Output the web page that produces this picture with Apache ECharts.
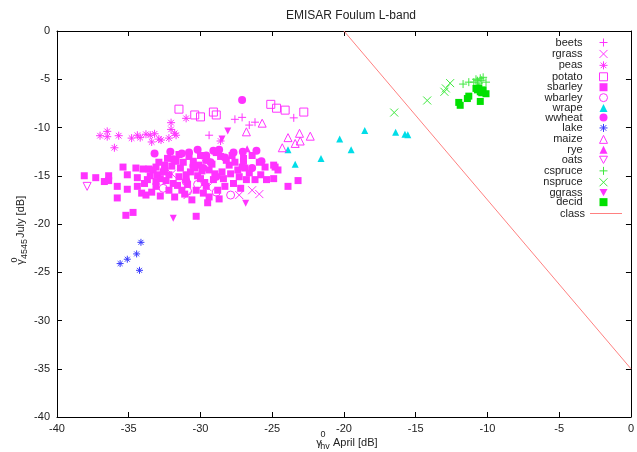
<!DOCTYPE html>
<html lang="en">
<head>
    <meta charset="UTF-8">
    <title>EMISAR Foulum L-band</title>
    <script src="https://cdn.jsdelivr.net/npm/echarts@6/dist/echarts.min.js"></script>
    <style>
        html, body { margin: 0; padding: 0; background: #ffffff; }
        #main { width: 637px; height: 452px; }
    </style>
</head>
<body>
    <div id="main"></div>
    <script>
        // axis ticks
        var xTicks = [-40, 0, 5];   // min, max, step
        var yTicks = [-40, 0, 5];

        // crop classes, [April hv dB, July 4545 dB]
        var beets = [[-27.6,-9.15],[-27.1,-8.95],[-26.6,-9.75],[-26.2,-9.45],[-23.5,-9.0],[-29.4,-10.8]];
        var rgrass = [[-26.4,-16.5],[-25.9,-16.9],[-27.3,-17.0],[-30.9,-17.0],[-29.5,-16.2],[-32.0,-14.8]];
        var peas = [[-37.0,-10.85],[-36.5,-10.4],[-36.5,-10.95],[-35.7,-10.85],[-36.0,-12.1],[-34.8,-11.1],
            [-34.4,-10.8],[-34.2,-11.05],[-33.8,-10.7],[-33.5,-10.8],[-33.2,-10.65],[-33.4,-11.5],[-32.9,-11.2],
            [-32.2,-11.1],[-32.05,-9.5],[-32.05,-10.2],[-31.8,-10.6],[-31.7,-10.8],[-31.0,-9.05],[-32.75,-11.3],
            [-28.6,-11.4]];
        var potato = [[-31.5,-8.1],[-30.4,-8.7],[-30.0,-8.9],[-29.1,-8.4],[-28.9,-8.7],[-25.1,-7.6],[-24.7,-8.0],
            [-24.1,-8.2],[-22.8,-8.4]];
        var sbarley = [[-38.1,-15.0],[-37.3,-15.2],[-36.7,-15.6],[-36.4,-15.5],[-36.4,-15.0],[-35.4,-14.1],
            [-35.8,-16.1],[-35.1,-14.9],[-34.5,-14.2],[-34.0,-14.3],[-33.6,-14.3],[-35.1,-16.4],[-35.8,-17.3],
            [-35.2,-19.1],[-34.7,-18.8],[-34.4,-15.2],[-34.4,-16.1],[-34.1,-16.8],[-33.8,-17.0],[-33.4,-16.7],
            [-33.1,-16.1],[-33.0,-14.9],[-33.1,-14.1],[-33.9,-15.8],[-33.7,-15.4],
            [-33.3,-14.4],[-33.1,-15.6],[-32.8,-15.3],[-32.5,-13.9],[-32.3,-13.2],[-31.7,-13.5],[-31.4,-14.2],
            [-31.5,-15.1],[-30.8,-13.0],[-30.7,-14.6],[-30.1,-13.9],[-30.0,-15.3],[-29.6,-13.4],[-29.4,-14.4],
            [-29.1,-15.4],[-28.6,-13.0],[-28.5,-14.6],[-28.0,-13.9],[-27.8,-12.9],[-27.4,-14.4],[-27.3,-15.1],
            [-27.0,-13.5],[-26.8,-15.4],[-32.2,-16.5],[-31.8,-17.2],[-31.3,-16.5],[-32.8,-17.1],[-30.6,-17.5],
            [-30.3,-16.5],[-29.6,-16.1],[-29.4,-17.2],[-30.3,-19.2],[-28.3,-16.1],[-27.7,-15.8],[-32.2,-14.9],
            [-32.9,-13.6],[-32.6,-14.6],[-32.0,-14.0],[-31.9,-15.8],[-31.6,-16.0],[-31.2,-13.6],[-31.0,-14.9],
            [-30.9,-15.9],[-30.5,-13.5],[-30.4,-14.2],[-30.2,-15.0],[-29.9,-14.5],[-29.8,-16.8],[-29.7,-15.7],
            [-29.2,-13.8],[-29.0,-14.8],[-28.8,-16.5],[-28.4,-15.3],[-28.2,-13.4],[-27.9,-14.8],[-27.6,-13.6],
            [-27.2,-16.3],[-26.9,-14.2],[-26.6,-14.7],[-33.5,-15.0],[-32.4,-15.5],[-31.1,-16.9],[-29.5,-17.8],
            [-28.7,-17.4],[-28.9,-12.6],[-30.0,-12.9],[-31.5,-12.8],
            [-26.2,-15.4],[-25.8,-14.9],[-25.4,-15.4],[-24.9,-15.3],[-24.8,-14.1],[-24.6,-14.4],[-24.9,-13.9],
            [-23.9,-16.1],[-23.2,-15.5],[-27.1,-14.1],[-27.0,-13.2],[-26.4,-12.9],[-25.9,-13.6],[-25.5,-14.1]];
        var wbarley = [[-28.9,-16.7],[-27.9,-17.0],[-32.6,-16.3],[-31.0,-15.6],[-30.9,-16.6],[-30.2,-15.9],[-29.6,-13.3]];
        var wrape = [[-23.9,-12.3],[-23.4,-13.8],[-21.6,-13.2],[-20.3,-11.2],[-19.5,-12.3],[-18.55,-10.3],
            [-16.4,-10.5],[-15.75,-10.7],[-15.55,-10.75]];
        var wwheat = [[-27.1,-7.15],[-33.2,-12.7],[-32.1,-12.5],[-30.2,-12.3],[-28.7,-12.3],[-27.7,-12.6],
            [-27.05,-12.5],[-26.1,-12.4],[-25.75,-13.5],[-26.4,-14.2],[-31.3,-12.7],[-30.8,-12.6],[-29.6,-12.9],
            [-29.1,-12.4],[-28.3,-13.1],[-31.9,-13.3],[-30.5,-14.0],[-29.8,-14.2],[-31.0,-15.5],[-28.9,-15.1],
            [-29.3,-13.6],[-32.5,-14.3]];
        var lake = [[-34.15,-21.9],[-34.45,-23.1],[-35.1,-23.65],[-35.6,-24.1],[-34.25,-24.8]];
        var maize = [[-25.7,-9.55],[-26.8,-10.45],[-23.9,-11.05],[-23.1,-10.6],[-22.35,-10.9],[-23.05,-11.4],
            [-23.4,-11.65],[-24.3,-12.1]];
        var rye = [[-26.75,-12.2]];
        var oats = [[-37.9,-16.1]];
        var cspruce = [[-11.7,-5.5],[-11.3,-5.3],[-10.95,-5.3],[-10.7,-5.15],[-10.5,-4.9],[-10.3,-4.8],
            [-10.1,-5.3],[-10.8,-5.0],[-10.6,-5.4],[-10.4,-5.1]];
        var nspruce = [[-16.5,-8.45],[-14.2,-7.2],[-13.0,-6.3],[-12.9,-5.95],[-12.6,-5.4]];
        var ggrass = [[-28.1,-10.35],[-28.5,-11.2],[-31.9,-19.4],[-26.85,-17.85]];
        var decid = [[-12.0,-7.4],[-11.9,-7.7],[-11.4,-7.0],[-11.3,-6.75],[-10.7,-6.1],[-10.5,-6.3],[-10.4,-6.4],
            [-10.1,-6.5],[-10.5,-7.3],[-10.6,-5.9],[-10.3,-6.1],[-10.8,-5.95]];
        var classLine = [[-20, 0], [0, -35]];

        var MAG = '#ff33ff', CYAN = '#00dde8', GREEN = '#00e000', LGREEN = '#3ee83e', BLUE = '#3a3aff';
        var LINE_RED = '#ff8080';
        var PLUS = 'path://M0,5L10,5M5,0L5,10';
        var CROSS = 'path://M1,1L9,9M1,9L9,1';
        var STAR = 'path://M0,5L10,5M5,0L5,10M1.5,1.5L8.5,8.5M1.5,8.5L8.5,1.5';
        var TRI_DOWN = 'path://M0,0L10,0L5,9Z';

        function filled(name, data, symbol, color, size) {
            return {
                name: name, type: 'scatter', data: data, symbol: symbol, symbolSize: size,
                itemStyle: { color: color, opacity: 1 },
                emphasis: { disabled: true }
            };
        }
        function open(name, data, symbol, color, size) {
            return {
                name: name, type: 'scatter', data: data, symbol: symbol, symbolSize: size,
                itemStyle: { color: 'none', borderColor: color, borderWidth: 1, opacity: 1 },
                emphasis: { disabled: true }
            };
        }

        var markers = [
            open('beets', beets, PLUS, MAG, 8),
            open('rgrass', rgrass, CROSS, MAG, 8),
            open('peas', peas, STAR, MAG, 8),
            open('potato', potato, 'rect', MAG, 8),
            filled('sbarley', sbarley, 'rect', MAG, 7),
            open('wbarley', wbarley, 'circle', MAG, 8),
            filled('wrape', wrape, 'triangle', CYAN, 7),
            filled('wwheat', wwheat, 'circle', MAG, 8),
            open('lake', lake, STAR, BLUE, 7),
            open('maize', maize, 'triangle', MAG, 8),
            filled('rye', rye, 'triangle', MAG, 7),
            open('oats', oats, TRI_DOWN, MAG, 8),
            open('cspruce', cspruce, PLUS, LGREEN, 8),
            open('nspruce', nspruce, CROSS, LGREEN, 8),
            filled('ggrass', ggrass, TRI_DOWN, MAG, 7),
            filled('decid', decid, 'rect', GREEN, 7)
        ];
        var series = markers.concat([{
            name: 'class', type: 'line', data: classLine, symbol: 'none',
            lineStyle: { color: LINE_RED, width: 1 },
            itemStyle: { color: LINE_RED },
            emphasis: { disabled: true }
        }]);

        var FONT = '"Liberation Sans", Arial, sans-serif';
        var axisLine = { show: true, onZero: false, lineStyle: { color: '#000', width: 1 } };
        var tick = { show: true, inside: true, length: 5, lineStyle: { color: '#000' } };

        function xAx(pos, labels) {
            return {
                type: 'value', position: pos, min: xTicks[0], max: xTicks[1], interval: xTicks[2],
                axisLine: axisLine, axisTick: tick, splitLine: { show: false },
                axisLabel: { show: labels, color: '#222', fontSize: 11, fontFamily: FONT, margin: 6 }
            };
        }
        function yAx(pos, labels) {
            return {
                type: 'value', position: pos, min: yTicks[0], max: yTicks[1], interval: yTicks[2],
                axisLine: axisLine, axisTick: tick, splitLine: { show: false },
                axisLabel: { show: labels, color: '#222', fontSize: 11, fontFamily: FONT, margin: 7 }
            };
        }

        var legendText = { fontSize: 11, color: '#222', fontFamily: FONT };
        var small = { fontSize: 9, fontFamily: FONT, fill: '#222', align: 'center', verticalAlign: 'middle' };
        var big = { fontSize: 11, fontFamily: FONT, fill: '#222', verticalAlign: 'middle' };

        var chart = echarts.init(document.getElementById('main'));
        chart.setOption({
            animation: false,
            textStyle: { fontFamily: FONT },
            title: {
                text: 'EMISAR Foulum L-band', left: 346, top: 5, textAlign: 'center',
                textStyle: { fontSize: 12, fontWeight: 'normal', color: '#222', fontFamily: FONT }
            },
            grid: { left: 57, right: 2, top: 31, bottom: 35, containLabel: false },
            xAxis: [xAx('bottom', true), xAx('top', false)],
            yAxis: [yAx('left', true), yAx('right', false)],
            legend: [{
                orient: 'vertical', right: 22, top: 31, align: 'right',
                itemWidth: 8, itemHeight: 8, itemGap: -1.57,
                textStyle: Object.assign({ padding: [0, 12, 0, 0] }, legendText),
                data: markers.map(function (s) {
                    return { name: s.name, icon: s.symbol, itemStyle: s.itemStyle };
                })
            }, {
                orient: 'vertical', right: 10, top: 203, align: 'right',
                itemWidth: 32, itemHeight: 1, itemGap: 0,
                textStyle: Object.assign({ padding: [0, 0, 0, 0] }, legendText),
                data: [{ name: 'class', icon: 'rect', itemStyle: { color: LINE_RED } }]
            }],
            graphic: [
                { type: 'text', x: 319, y: 443, style: Object.assign({ text: 'γ', align: 'center' }, big) },
                { type: 'text', x: 323, y: 435, style: Object.assign({ text: '0' }, small) },
                { type: 'text', x: 325, y: 447, style: Object.assign({ text: 'hv' }, small) },
                { type: 'text', x: 333, y: 443, style: Object.assign({ text: 'April [dB]', align: 'left' }, big) },
                { type: 'text', x: 21, y: 262, rotation: Math.PI / 2, style: Object.assign({ text: 'γ', align: 'center' }, big) },
                { type: 'text', x: 15, y: 260, rotation: Math.PI / 2, style: Object.assign({ text: '0' }, small) },
                { type: 'text', x: 25, y: 249, rotation: Math.PI / 2, style: Object.assign({ text: '4545' }, small) },
                { type: 'text', x: 21, y: 238, rotation: Math.PI / 2, style: Object.assign({ text: 'July [dB]', align: 'left' }, big) }
            ],
            series: series
        });
    </script>
</body>
</html>
